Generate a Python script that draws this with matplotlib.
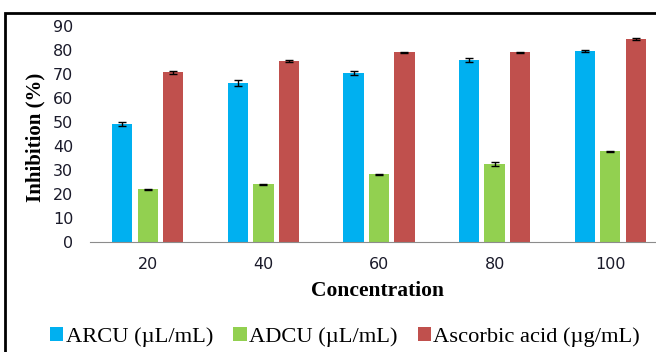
import matplotlib
matplotlib.use("Agg")
import matplotlib.pyplot as plt
import numpy as np
from matplotlib.patches import Rectangle

# data
concentrations = ["20", "40", "60", "80", "100"]
arcu = [49.2, 66.2, 70.4, 75.9, 79.5]
arcu_err = [0.8, 1.4, 0.8, 0.8, 0.5]
adcu = [21.9, 24.0, 28.2, 32.4, 37.8]
adcu_err = [0.3, 0.3, 0.3, 0.9, 0.3]
ascorbic = [70.8, 75.5, 79.0, 79.1, 84.6]
ascorbic_err = [0.6, 0.4, 0.3, 0.2, 0.3]

series_names = ["ARCU (\u00b5L/mL)", "ADCU (\u00b5L/mL)", "Ascorbic acid (\u00b5g/mL)"]
colors = ["#00B0F0", "#92D050", "#C0504D"]

fig = plt.figure(figsize=(6.56, 3.52), dpi=100)
ax = fig.add_axes([90 / 656, 110 / 352, 578 / 656, 216 / 352])

x = np.arange(len(concentrations))
w = 0.175
off = 0.22
for i, (vals, errs) in enumerate([(arcu, arcu_err), (adcu, adcu_err), (ascorbic, ascorbic_err)]):
    ax.bar(x + (i - 1) * off, vals, w, color=colors[i], label=series_names[i],
           yerr=errs, capsize=3, error_kw=dict(ecolor="black", elinewidth=1, capthick=1))

ax.set_xlim(-0.5, len(concentrations) - 0.5)
ax.set_ylim(0, 90)
ax.set_yticks(range(0, 91, 10))
ax.set_xticks(x)
ax.set_xticklabels(concentrations)
for s in ["top", "right", "left"]:
    ax.spines[s].set_visible(False)
ax.spines["bottom"].set_color("#8c8c8c")
ax.tick_params(axis="both", length=0, labelsize=11.5, colors="#1a1a2a")
ax.tick_params(axis="y", pad=12)
ax.tick_params(axis="x", pad=11)

serif = "Liberation Serif"
fig.text(35 / 656, 1 - 137 / 352, "Inhibition (%)", rotation=90, ha="center", va="center",
         fontfamily=serif, fontweight="bold", fontsize=15)
fig.text(378 / 656, 1 - 291 / 352, "Concentration", ha="center", va="center",
         fontfamily=serif, fontweight="bold", fontsize=15.5)

handles, labels = ax.get_legend_handles_labels()
fig.legend(handles, labels, loc="center", bbox_to_anchor=(345 / 656, 1 - 337 / 352), ncol=3,
           frameon=False, prop={"family": serif, "size": 16.2}, handlelength=0.6,
           handleheight=0.6, handletextpad=0.1, columnspacing=0.9)

# the frame around the chart, partly cut off by the image edge
fig.patches.append(Rectangle((5 / 656, -0.1), 1.2, 1 - 13 / 352 + 0.1, transform=fig.transFigure,
                             fill=False, edgecolor="black", linewidth=2, clip_on=False))

fig.savefig("out.png", dpi=100)
